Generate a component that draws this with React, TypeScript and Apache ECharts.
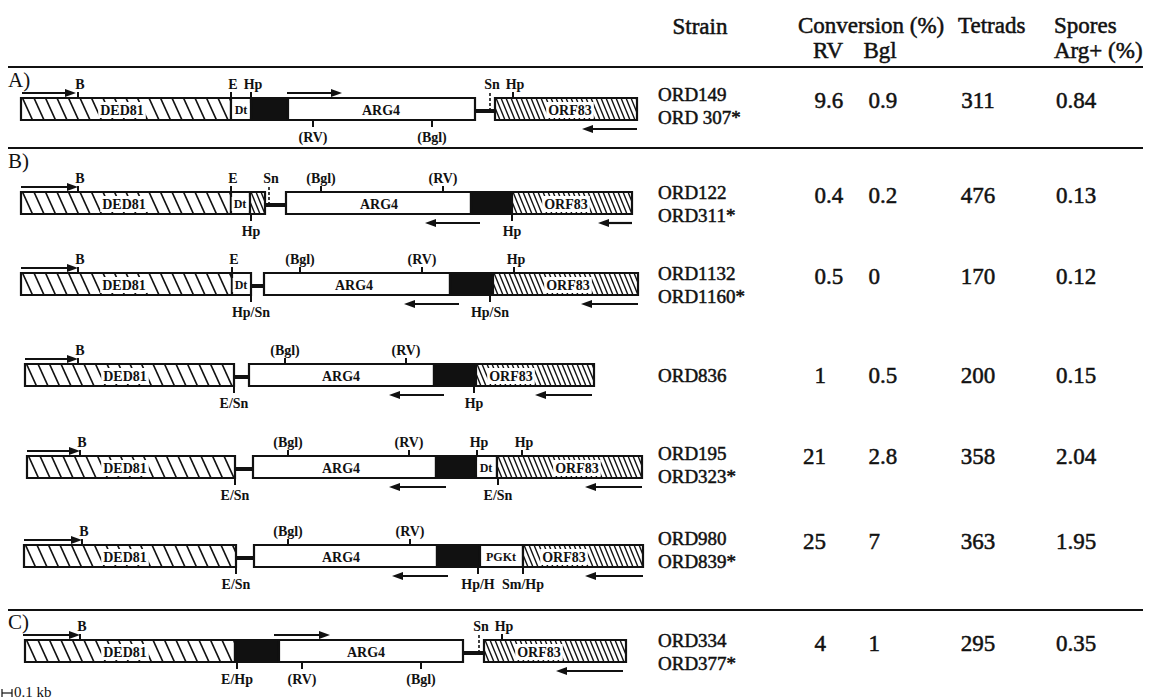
import React, { useEffect, useRef } from "react";
import * as echarts from "echarts";

// ---------- layout constants ----------
const W = 1161;
const H = 699;
const ROW_TOPS = [98, 192, 273, 364, 456, 545, 640];
const BOX_H = 22;
const TABLE_Y = [97, 195, 276, 375, 456, 541, 643];

// ---------- data ----------
// [row, start, end, kind]
const SEGMENTS: [number, number, number, string][] = [
  [0, 21, 231, "hatch"], [0, 231, 251, "white"], [0, 251, 288, "black"], [0, 288, 475, "white"], [0, 475, 495, "link"], [0, 495, 637, "dense"],
  [1, 21, 231, "hatch"], [1, 231, 250, "white"], [1, 250, 265, "dense"], [1, 265, 286, "link"], [1, 286, 471, "white"], [1, 471, 512, "black"], [1, 512, 632, "dense"],
  [2, 21, 232, "hatch"], [2, 232, 251, "white"], [2, 251, 264, "link"], [2, 264, 450, "white"], [2, 450, 493, "black"], [2, 493, 638, "dense"],
  [3, 25, 234, "hatch"], [3, 234, 249, "link"], [3, 249, 434, "white"], [3, 434, 476, "black"], [3, 476, 594, "dense"],
  [4, 27, 235, "hatch"], [4, 235, 253, "link"], [4, 253, 436, "white"], [4, 436, 476, "black"], [4, 476, 497, "white"], [4, 497, 642, "dense"],
  [5, 24, 236, "hatch"], [5, 236, 254, "link"], [5, 254, 437, "white"], [5, 437, 480, "black"], [5, 480, 523, "white"], [5, 523, 643, "dense"],
  [6, 25, 235, "hatch"], [6, 235, 279, "black"], [6, 279, 463, "white"], [6, 463, 484, "link"], [6, 484, 626, "dense"],
];

// [row, x, text]
const BOX_LABELS: [number, number, string][] = [
  [0, 122, "DED81"], [0, 241, "Dt"], [0, 381, "ARG4"], [0, 570, "ORF83"],
  [1, 124, "DED81"], [1, 240, "Dt"], [1, 379, "ARG4"], [1, 566, "ORF83"],
  [2, 124, "DED81"], [2, 241, "Dt"], [2, 354, "ARG4"], [2, 568, "ORF83"],
  [3, 125, "DED81"], [3, 341, "ARG4"], [3, 511, "ORF83"],
  [4, 125, "DED81"], [4, 341, "ARG4"], [4, 486, "Dt"], [4, 577, "ORF83"],
  [5, 125, "DED81"], [5, 341, "ARG4"], [5, 501, "PGKt"], [5, 564, "ORF83"],
  [6, 125, "DED81"], [6, 366, "ARG4"], [6, 539, "ORF83"],
];

// [row, x, side (1 above / -1 below), dashed, label]
const SITES: [number, number, number, number, string][] = [
  [0, 78, 1, 0, "B"], [0, 231, 1, 0, "E"], [0, 251, 1, 0, "Hp"], [0, 490, 1, 1, "Sn"], [0, 513, 1, 0, "Hp"], [0, 313, -1, 0, "(RV)"], [0, 432, -1, 0, "(Bgl)"],
  [1, 78, 1, 0, "B"], [1, 231, 1, 0, "E"], [1, 269, 1, 1, "Sn"], [1, 321, 1, 0, "(Bgl)"], [1, 443, 1, 0, "(RV)"], [1, 251, -1, 0, "Hp"], [1, 512, -1, 0, "Hp"],
  [2, 78, 1, 0, "B"], [2, 232, 1, 0, "E"], [2, 300, 1, 0, "(Bgl)"], [2, 422, 1, 0, "(RV)"], [2, 514, 1, 0, "Hp"], [2, 251, -1, 0, "Hp/Sn"], [2, 490, -1, 0, "Hp/Sn"],
  [3, 78, 1, 0, "B"], [3, 285, 1, 0, "(Bgl)"], [3, 406, 1, 0, "(RV)"], [3, 234, -1, 0, "E/Sn"], [3, 474, -1, 0, "Hp"],
  [4, 80, 1, 0, "B"], [4, 288, 1, 0, "(Bgl)"], [4, 409, 1, 0, "(RV)"], [4, 477, 1, 0, "Hp"], [4, 522, 1, 0, "Hp"], [4, 235, -1, 0, "E/Sn"], [4, 498, -1, 0, "E/Sn"],
  [5, 82, 1, 0, "B"], [5, 288, 1, 0, "(Bgl)"], [5, 410, 1, 0, "(RV)"], [5, 236, -1, 0, "E/Sn"], [5, 478, -1, 0, "Hp/H"], [5, 523, -1, 0, "Sm/Hp"],
  [6, 80, 1, 0, "B"], [6, 479, 1, 1, "Sn"], [6, 502, 1, 0, "Hp"], [6, 237, -1, 0, "E/Hp"], [6, 302, -1, 0, "(RV)"], [6, 421, -1, 0, "(Bgl)"],
];

// [row, from, to, side]
const ARROWS: [number, number, number, number][] = [
  [0, 22, 76, 1], [0, 287, 342, 1], [0, 637, 582, -1],
  [1, 21, 78, 1], [1, 480, 425, -1], [1, 632, 598, -1],
  [2, 21, 78, 1], [2, 459, 404, -1], [2, 638, 581, -1],
  [3, 25, 78, 1], [3, 444, 389, -1], [3, 592, 535, -1],
  [4, 27, 80, 1], [4, 446, 389, -1], [4, 642, 585, -1],
  [5, 24, 82, 1], [5, 448, 392, -1], [5, 643, 585, -1],
  [6, 23, 80, 1], [6, 274, 330, 1], [6, 623, 556, -1],
];

const SECTIONS: [string, number][] = [["A)", 80], ["B)", 161], ["C)", 622]];

const STRAINS: string[][] = [
  ["ORD149", "ORD 307*"], ["ORD122", "ORD311*"], ["ORD1132", "ORD1160*"], ["ORD836"],
  ["ORD195", "ORD323*"], ["ORD980", "ORD839*"], ["ORD334", "ORD377*"],
];
const CONV_RV = ["9.6", "0.4", "0.5", "1", "21", "25", "4"];
const CONV_BGL = ["0.9", "0.2", "0", "0.5", "2.8", "7", "1"];
const TETRADS = ["311", "476", "170", "200", "358", "363", "295"];
const SPORES = ["0.84", "0.13", "0.12", "0.15", "2.04", "1.95", "0.35"];

const INK = "#111";
const SERIF = "'Liberation Serif', 'Times New Roman', serif";
const TFONT = 23;
const NAME_FONT = 19;
const NAME_STEP = 23;

function hatchLines(x0: number, y0: number, x1: number, y1: number, spacing: number, run: number, lw: number) {
  const out: any[] = [];
  for (let a = x0 - run; a < x1; a += spacing) {
    const tMin = Math.max(0, (x0 - a) / run);
    const tMax = Math.min(1, (x1 - a) / run);
    if (tMax <= tMin) continue;
    out.push({
      type: "line",
      shape: { x1: a + run * tMin, y1: y0 + (y1 - y0) * tMin, x2: a + run * tMax, y2: y0 + (y1 - y0) * tMax },
      style: { stroke: INK, lineWidth: lw },
    });
  }
  return out;
}

function txt(text: string, x: number, y: number, size: number, align = "left", weight = "normal", heavy = false) {
  const style: any = {
    text, x: 0, y: 0, fill: INK,
    font: `${weight} ${size}px ${SERIF}`,
    align, textAlign: align, verticalAlign: "middle", textVerticalAlign: "middle",
  };
  if (heavy) { style.stroke = INK; style.lineWidth = 0.5; }
  return { type: "text", x, y, style };
}

export default function App() {
  const ref = useRef<HTMLDivElement>(null);
  useEffect(() => {
    if (!ref.current) return;
    const chart = echarts.init(ref.current, undefined, { renderer: "svg" });

    const segSeries = {
      type: "custom",
      coordinateSystem: "cartesian2d",
      clip: false,
      data: SEGMENTS.map((s) => [s[1], ROW_TOPS[s[0]], s[2]]),
      renderItem: (params: any, api: any) => {
        const s = SEGMENTS[params.dataIndex];
        const top = ROW_TOPS[s[0]];
        const p0 = api.coord([s[1], top]);
        const p1 = api.coord([s[2], top + BOX_H]);
        const [x0, y0] = p0;
        const [x1, y1] = p1;
        const kind = s[3];
        if (kind === "link") {
          const ym = (y0 + y1) / 2 + 2;
          return { type: "line", shape: { x1: x0, y1: ym, x2: x1, y2: ym }, style: { stroke: INK, lineWidth: 4 } };
        }
        const children: any[] = [
          { type: "rect", shape: { x: x0, y: y0, width: x1 - x0, height: y1 - y0 }, style: { fill: kind === "black" ? INK : "#fff" } },
        ];
        if (kind === "hatch") children.push(...hatchLines(x0, y0, x1, y1, 11.5, 10, 1.7));
        if (kind === "dense") children.push(...hatchLines(x0, y0, x1, y1, 5, 9, 1.4));
        children.push({ type: "rect", shape: { x: x0, y: y0, width: x1 - x0, height: y1 - y0 }, style: { fill: "none", stroke: INK, lineWidth: 2.2 } });
        return { type: "group", children };
      },
      z: 2,
    };

    const labelSeries = {
      type: "custom",
      coordinateSystem: "cartesian2d",
      clip: false,
      data: BOX_LABELS.map((b) => [b[1], ROW_TOPS[b[0]] + BOX_H / 2]),
      renderItem: (params: any, api: any) => {
        const b = BOX_LABELS[params.dataIndex];
        const p = api.coord([b[1], ROW_TOPS[b[0]] + BOX_H / 2]);
        const small = b[2] === "Dt" || b[2] === "PGKt";
        return {
          type: "text",
          x: p[0], y: p[1] + 1,
          style: {
            text: b[2], x: 0, y: 0, fill: INK,
            font: `bold ${small ? 12 : 14}px ${SERIF}`,
            align: "center", textAlign: "center", verticalAlign: "middle", textVerticalAlign: "middle",
            backgroundColor: "#fff", padding: [1, 2, 1, 2],
          },
        };
      },
      z: 3,
    };

    const siteSeries = {
      type: "custom",
      coordinateSystem: "cartesian2d",
      clip: false,
      data: SITES.map((s) => [s[1], ROW_TOPS[s[0]]]),
      renderItem: (params: any, api: any) => {
        const s = SITES[params.dataIndex];
        const top = ROW_TOPS[s[0]];
        const pt = api.coord([s[1], top]);
        const pb = api.coord([s[1], top + BOX_H]);
        const x = pt[0];
        const children: any[] = [];
        if (s[2] === 1) {
          if (s[3]) {
            const ym = (pt[1] + pb[1]) / 2 + 2;
            children.push({ type: "line", shape: { x1: x, y1: ym, x2: x, y2: pt[1] - 6 }, style: { stroke: INK, lineWidth: 1.6, lineDash: [3, 2] } });
          } else {
            children.push({ type: "line", shape: { x1: x, y1: pt[1], x2: x, y2: pt[1] - 6 }, style: { stroke: INK, lineWidth: 2 } });
          }
          children.push(txt(s[4], x + (s[4].length <= 2 ? 2 : 0), pt[1] - 14, 14, "center", "bold"));
        } else {
          children.push({ type: "line", shape: { x1: x, y1: pb[1], x2: x, y2: pb[1] + 7 }, style: { stroke: INK, lineWidth: 2 } });
          children.push(txt(s[4], x, pb[1] + 17, 14, "center", "bold"));
        }
        return { type: "group", children };
      },
      z: 4,
    };

    const arrowSeries = {
      type: "custom",
      coordinateSystem: "cartesian2d",
      clip: false,
      data: ARROWS.map((a) => [a[1], ROW_TOPS[a[0]], a[2]]),
      renderItem: (params: any, api: any) => {
        const a = ARROWS[params.dataIndex];
        const top = ROW_TOPS[a[0]];
        const yv = a[3] === 1 ? top - 5 : top + BOX_H + 9;
        const p0 = api.coord([a[1], yv]);
        const p1 = api.coord([a[2], yv]);
        const dir = p1[0] > p0[0] ? 1 : -1;
        const tip = p1[0];
        const y = p0[1];
        return {
          type: "group",
          children: [
            { type: "line", shape: { x1: p0[0], y1: y, x2: tip - dir * 6, y2: y }, style: { stroke: INK, lineWidth: 2.2 } },
            { type: "polygon", shape: { points: [[tip, y], [tip - dir * 11, y - 4], [tip - dir * 11, y + 4]] }, style: { fill: INK } },
          ],
        };
      },
      z: 4,
    };

    // table + frame graphics built from arrays
    const g: any[] = [];
    [67, 148, 610].forEach((y) => g.push({ type: "line", shape: { x1: 8, y1: y, x2: 1143, y2: y }, style: { stroke: INK, lineWidth: 2 } }));
    SECTIONS.forEach(([t, y]) => g.push(txt(t, 8, y, 21)));
    g.push(txt("Strain", 700, 26, TFONT, "center", "normal", true));
    g.push(txt("Conversion (%)", 798, 25, TFONT, "left", "normal", true));
    g.push(txt("Tetrads", 958, 25, TFONT, "left", "normal", true));
    g.push(txt("Spores", 1054, 25, TFONT, "left", "normal", true));
    g.push(txt("RV", 828, 50, TFONT, "center", "normal", true));
    g.push(txt("Bgl", 880, 50, TFONT, "center", "normal", true));
    g.push(txt("Arg+ (%)", 1054, 50, TFONT, "left", "normal", true));
    STRAINS.forEach((names, i) => {
      const y0 = names.length > 1 ? TABLE_Y[i] - 3 : TABLE_Y[i];
      names.forEach((n, j) => g.push(txt(n, 658, y0 + j * NAME_STEP, NAME_FONT, "left", "normal", true)));
    });
    const vy = (i: number) => TABLE_Y[i] + (i === 0 ? 3 : 0);
    const decimal = (v: string, xDec: number, y: number) => {
      const k = v.indexOf(".");
      const intPart = k < 0 ? v : v.slice(0, k);
      const frac = k < 0 ? "" : v.slice(k);
      g.push(txt(intPart, xDec, y, TFONT, "right", "normal", true));
      if (frac) g.push(txt(frac, xDec, y, TFONT, "left", "normal", true));
    };
    CONV_RV.forEach((v, i) => decimal(v, 826, vy(i)));
    CONV_BGL.forEach((v, i) => decimal(v, 880, vy(i)));
    TETRADS.forEach((v, i) => g.push(txt(v, 978, vy(i), TFONT, "center", "normal", true)));
    SPORES.forEach((v, i) => g.push(txt(v, 1076, vy(i), TFONT, "center", "normal", true)));
    // scale bar
    g.push({ type: "line", shape: { x1: 2, y1: 693, x2: 12, y2: 693 }, style: { stroke: INK, lineWidth: 1.2 } });
    g.push({ type: "line", shape: { x1: 2, y1: 689, x2: 2, y2: 697 }, style: { stroke: INK, lineWidth: 1.2 } });
    g.push({ type: "line", shape: { x1: 12, y1: 689, x2: 12, y2: 697 }, style: { stroke: INK, lineWidth: 1.2 } });
    g.push(txt("0.1 kb", 14, 692, 15));

    chart.setOption({
      animation: false,
      backgroundColor: "#fff",
      grid: { left: 0, right: 0, top: 0, bottom: 0 },
      xAxis: { type: "value", min: 0, max: W, show: false },
      yAxis: { type: "value", min: 0, max: H, inverse: true, show: false },
      graphic: g,
      series: [segSeries, arrowSeries, siteSeries, labelSeries],
    });
    return () => chart.dispose();
  }, []);
  return <div ref={ref} style={{ position: "fixed", left: 0, top: 0, width: W, height: H, background: "#fff" }} />;
}
